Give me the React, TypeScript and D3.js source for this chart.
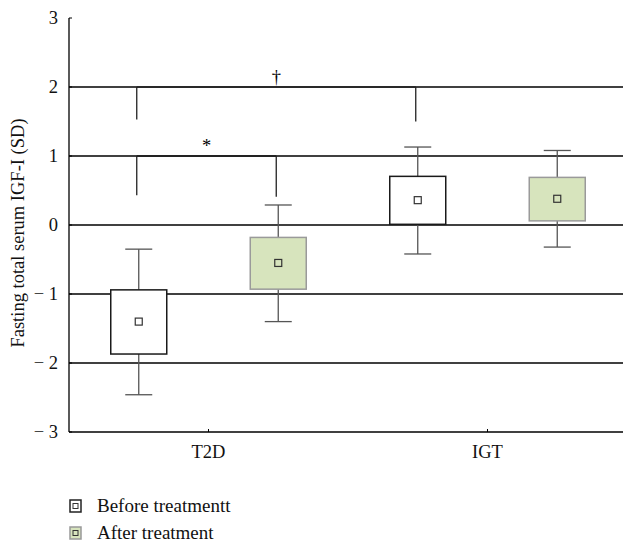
import React from "react";
import * as d3 from "d3";

const categories = ["T2D", "IGT"];
const seriesNames = ["Before treatmentt", "After treatment"];
// per series: [T2D, IGT]
const beforeLow = [-2.46, -0.42];
const beforeQ1 = [-1.87, 0.01];
const beforeMean = [-1.4, 0.36];
const beforeQ3 = [-0.94, 0.705];
const beforeHigh = [-0.35, 1.13];
const afterLow = [-1.4, -0.32];
const afterQ1 = [-0.93, 0.06];
const afterMean = [-0.55, 0.38];
const afterQ3 = [-0.18, 0.69];
const afterHigh = [0.29, 1.08];
const yTicks = [-3, -2, -1, 0, 1, 2, 3];
const gridTicks = [-2, -1, 0, 1, 2];
// brackets: [fromCat, fromSeries, toCat, toSeries, level, leftEnd, rightEnd, symbol]
const brackets: [number, number, number, number, number, number, number, string][] = [
  [0, 0, 1, 0, 2, 1.53, 1.5, "†"],
  [0, 0, 0, 1, 1, 0.43, 0.41, "*"],
];

const W = 623, H = 544;
const left = 69, right = 627, top = 18, bottom = 432;

export default function App() {
  const y = d3.scaleLinear().domain([-3, 3]).range([bottom, top]);
  const x = d3.scaleBand().domain(categories).range([left, right]);
  const xs = d3.scalePoint().domain(["0", "1"]).range([0, x.bandwidth()]).padding(0.5);
  const cx = (c: number, s: number) => (x(categories[c]) as number) + (xs(String(s)) as number);
  const boxW = 56, capW = 27, mk = 7;
  const font = "'Liberation Serif', 'Times New Roman', serif";
  const fs = 18.5;

  const series = [
    { low: beforeLow, q1: beforeQ1, mean: beforeMean, q3: beforeQ3, high: beforeHigh, fill: "#ffffff", stroke: "#1a1a1a" },
    { low: afterLow, q1: afterQ1, mean: afterMean, q3: afterQ3, high: afterHigh, fill: "#d7e4bd", stroke: "#9a9a9a" },
  ];

  return (
    <svg width={W} height={H} style={{ position: "absolute", left: 0, top: 0, background: "#fff" }} fontFamily={font}>
      {gridTicks.map((t) => (
        <line key={t} x1={left} x2={W} y1={y(t)} y2={y(t)} stroke="#000" strokeWidth={1.3} />
      ))}
      <line x1={left} x2={left} y1={top} y2={bottom} stroke="#000" strokeWidth={1.3} />
      <line x1={left} x2={W} y1={bottom} y2={bottom} stroke="#000" strokeWidth={1.3} />
      {yTicks.map((t) => (
        <g key={t}>
          <line x1={left} x2={left + 3} y1={y(t)} y2={y(t)} stroke="#000" />
          <text x={58} y={y(t)} dy="0.33em" textAnchor="end" fontSize={fs} fill="#111">
            {t < 0 ? `\u2212 ${Math.abs(t)}` : String(t)}
          </text>
        </g>
      ))}
      {categories.map((c) => {
        const px = (x(c) as number) + x.bandwidth() / 2;
        return (
          <g key={c}>
            <line x1={px} x2={px} y1={bottom} y2={bottom - 3} stroke="#000" />
            <text x={px} y={458} textAnchor="middle" fontSize={fs} fill="#111">{c}</text>
          </g>
        );
      })}
      <text transform={`translate(24,${(top + bottom) / 2 + 8}) rotate(-90)`} textAnchor="middle" fontSize={fs} fill="#111">
        Fasting total serum IGF-I (SD)
      </text>
      {series.map((s, si) =>
        categories.map((c, ci) => {
          const px = cx(ci, si);
          return (
            <g key={`${si}-${ci}`}>
              <line x1={px} x2={px} y1={y(s.high[ci])} y2={y(s.q3[ci])} stroke="#555" strokeWidth={1.3} />
              <line x1={px} x2={px} y1={y(s.q1[ci])} y2={y(s.low[ci])} stroke="#555" strokeWidth={1.3} />
              <line x1={px - capW / 2} x2={px + capW / 2} y1={y(s.high[ci])} y2={y(s.high[ci])} stroke="#555" strokeWidth={1.3} />
              <line x1={px - capW / 2} x2={px + capW / 2} y1={y(s.low[ci])} y2={y(s.low[ci])} stroke="#555" strokeWidth={1.3} />
              <rect x={px - boxW / 2} y={y(s.q3[ci])} width={boxW} height={y(s.q1[ci]) - y(s.q3[ci])} fill={s.fill} stroke={s.stroke} strokeWidth={1.5} />
              <rect x={px - mk / 2} y={y(s.mean[ci]) - mk / 2} width={mk} height={mk} fill={s.fill} stroke="#333" strokeWidth={1.2} />
            </g>
          );
        })
      )}
      {brackets.map(([c0, s0, c1, s1, lvl, e0, e1, sym], i) => {
        const x0 = cx(c0, s0) - 2, x1 = cx(c1, s1) - 2;
        return (
          <g key={i}>
            <line x1={x0} x2={x1} y1={y(lvl)} y2={y(lvl)} stroke="#222" strokeWidth={i === 1 ? 2.2 : 1.3} />
            <line x1={x0} x2={x0} y1={y(lvl)} y2={y(e0)} stroke="#222" strokeWidth={1.3} />
            <line x1={x1} x2={x1} y1={y(lvl)} y2={y(e1)} stroke="#222" strokeWidth={1.3} />
            <text x={(x0 + x1) / 2} y={y(lvl) - 4} textAnchor="middle" fontSize={fs} fill="#000">{sym}</text>
          </g>
        );
      })}
      {seriesNames.map((n, i) => (
        <g key={n} transform={`translate(70,${500 + i * 27})`}>
          <rect x={0} y={0} width={11} height={12} fill={series[i].fill} stroke={i === 0 ? "#222" : "#999"} strokeWidth={1.5} />
          <rect x={3} y={3.5} width={5} height={5} fill={series[i].fill} stroke="#333" strokeWidth={1} />
          <text x={27} y={12} fontSize={19} fill="#111">{n}</text>
        </g>
      ))}
    </svg>
  );
}
